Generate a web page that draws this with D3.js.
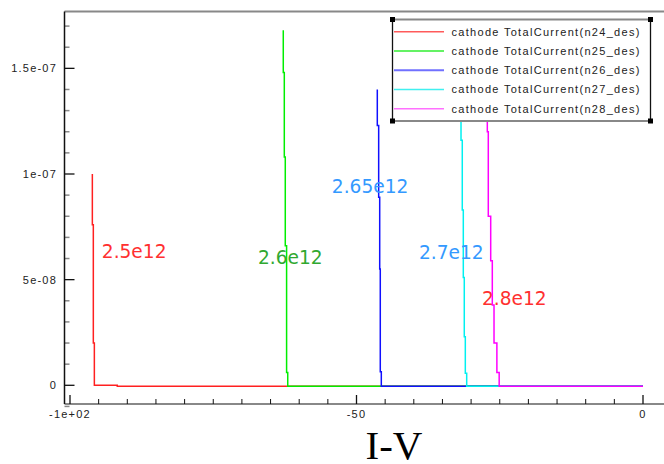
<!DOCTYPE html>
<html>
<head>
<meta charset="utf-8">
<script src="https://cdn.jsdelivr.net/npm/d3@7"></script>
<style>
  body { margin: 0; background: #fff; }
  svg { display: block; }
</style>
</head>
<body>
<svg></svg>
<script>
const width = 664;
const height = 464;

// series: cathode TotalCurrent vs voltage, points drawn as steps
const seriesNames = ["n24_des", "n25_des", "n26_des", "n27_des", "n28_des"];
const n24V = [-96.1, -95.93, -95.75, -91.75, 0];
const n24I = [1.0e-7, 7.6e-8, 2.0e-8, 0, -5e-10];
const n25V = [-62.78, -62.6, -62.43, -62.2, -62.0, 0];
const n25I = [1.68e-7, 1.48e-7, 1.08e-7, 6.6e-8, 6e-9, -5e-10];
const n26V = [-46.37, -46.13, -45.95, -45.85, -45.67, 0];
const n26I = [1.40e-7, 1.23e-7, 8.9e-8, 5.5e-8, 6.4e-9, -5e-10];
const n27V = [-31.76, -31.54, -31.36, -31.19, -31.01, -30.77, 0];
const n27I = [1.5e-7, 1.16e-7, 8.3e-8, 5.1e-8, 2.3e-8, 5.7e-9, -5e-10];
const n28V = [-27.17, -27.0, -26.58, -26.3, -26.0, -25.5, -25.1, 0];
const n28I = [1.45e-7, 1.2e-7, 8.0e-8, 5.9e-8, 3.8e-8, 2.0e-8, 6e-9, -5e-10];

// doping annotations
const annoText = ["2.5e12", "2.6e12", "2.65e12", "2.7e12", "2.8e12"];
const annoV = [-94.45, -67.2, -54.3, -39.1, -28.1];
const annoI = [6.01e-8, 5.73e-8, 9.09e-8, 5.96e-8, 3.78e-8];

const xTicks = [-100, -50, 0];
const xTickLabels = ["-1e+02", "-50", "0"];
const yTicks = [0, 5e-8, 1e-7, 1.5e-7];
const yTickLabels = ["0", "5e-08", "1e-07", "1.5e-07"];

const lineColors = ["#ff2020", "#00ee00", "#1010ff", "#00f0f0", "#ff00ff"];
const legendColors = ["#ff5a5a", "#30ee30", "#7070ff", "#40f0f0", "#ff70ff"];
const annoColors = ["#ff3030", "#30a830", "#3399ff", "#3399ff", "#ff3030"];

const allSeries = [[n24V, n24I], [n25V, n25I], [n26V, n26I], [n27V, n27I], [n28V, n28I]]
  .map(([v, i], k) => ({ name: seriesNames[k], pts: v.map((d, j) => [d, i[j]]) }));

const svg = d3.select("svg").attr("width", width).attr("height", height);

const plotLeft = 64.5, plotTop = 11.5, plotBottom = 404;
const x = d3.scaleLinear().domain([-100, 0]).range([70, 643]);
const y = d3.scaleLinear().domain([0, 1e-7]).range([385.3, 174]);

const tickFont = "'Liberation Sans', Arial, sans-serif";

// frame
svg.append("line").attr("x1", plotLeft).attr("x2", width).attr("y1", plotTop).attr("y2", plotTop)
  .attr("stroke", "#888").attr("stroke-width", 2);
svg.append("line").attr("x1", plotLeft).attr("x2", width).attr("y1", plotBottom).attr("y2", plotBottom)
  .attr("stroke", "#888").attr("stroke-width", 2);

// x ticks
const xMinor = d3.range(-100, 5, 5).filter(d => !xTicks.includes(d));
svg.append("g").selectAll("line").data(xMinor).enter().append("line")
  .attr("x1", d => x(d)).attr("x2", d => x(d))
  .attr("y1", plotBottom).attr("y2", plotBottom - 5)
  .attr("stroke", "#111").attr("stroke-width", 1);
svg.append("g").selectAll("line").data(xTicks).enter().append("line")
  .attr("x1", d => x(d)).attr("x2", d => x(d))
  .attr("y1", plotBottom).attr("y2", plotBottom - 9)
  .attr("stroke", "#111").attr("stroke-width", 1.3);
svg.append("g").selectAll("text").data(xTicks).enter().append("text")
  .attr("x", d => x(d)).attr("y", 418)
  .attr("text-anchor", "middle")
  .attr("font-family", tickFont).attr("font-size", 11)
  .attr("letter-spacing", 1.2).attr("fill", "#222")
  .text((d, k) => xTickLabels[k]);

// y ticks
const yMinor = d3.range(-1, 18).map(k => k * 1e-8).filter(d => !yTicks.some(t => Math.abs(t - d) < 1e-12));
svg.append("g").selectAll("line").data(yMinor).enter().append("line")
  .attr("x1", plotLeft).attr("x2", plotLeft + 5)
  .attr("y1", d => y(d)).attr("y2", d => y(d))
  .attr("stroke", "#888").attr("stroke-width", 1.5);
svg.append("g").selectAll("line").data(yTicks).enter().append("line")
  .attr("x1", plotLeft).attr("x2", plotLeft + 10)
  .attr("y1", d => y(d)).attr("y2", d => y(d))
  .attr("stroke", "#111").attr("stroke-width", 1.3);
svg.append("g").selectAll("text").data(yTicks).enter().append("text")
  .attr("x", 57).attr("y", d => y(d) + 4)
  .attr("text-anchor", "end")
  .attr("font-family", tickFont).attr("font-size", 11)
  .attr("letter-spacing", 1.2).attr("fill", "#222")
  .text((d, k) => yTickLabels[k]);

// left axis
svg.append("line").attr("x1", plotLeft).attr("x2", plotLeft).attr("y1", plotTop).attr("y2", plotBottom)
  .attr("stroke", "#111").attr("stroke-width", 1.5);

// curves
const line = d3.line().x(d => x(d[0])).y(d => y(d[1])).curve(d3.curveStepBefore);
svg.append("g").selectAll("path").data(allSeries).enter().append("path")
  .attr("d", d => line(d.pts))
  .attr("fill", "none")
  .attr("stroke", (d, k) => lineColors[k])
  .attr("stroke-width", 1.5);

// legend
const lg = { x0: 392.5, y0: 19.5, x1: 650.5, y1: 121 };
const legend = svg.append("g");
legend.append("rect").attr("x", lg.x0).attr("y", lg.y0)
  .attr("width", lg.x1 - lg.x0).attr("height", lg.y1 - lg.y0).attr("fill", "#fff");
legend.append("line").attr("x1", lg.x0).attr("x2", lg.x1).attr("y1", lg.y0).attr("y2", lg.y0)
  .attr("stroke", "#888").attr("stroke-width", 2);
legend.append("line").attr("x1", lg.x0).attr("x2", lg.x1).attr("y1", lg.y1).attr("y2", lg.y1)
  .attr("stroke", "#888").attr("stroke-width", 2);
legend.append("line").attr("x1", lg.x0).attr("x2", lg.x0).attr("y1", lg.y0).attr("y2", lg.y1)
  .attr("stroke", "#111").attr("stroke-width", 1.3);
legend.append("line").attr("x1", lg.x1).attr("x2", lg.x1).attr("y1", lg.y0).attr("y2", lg.y1)
  .attr("stroke", "#111").attr("stroke-width", 1.3);
[[lg.x0, lg.y0], [lg.x1, lg.y0], [lg.x0, lg.y1], [lg.x1, lg.y1]].forEach(([cx, cy]) => {
  legend.append("rect").attr("x", cx - 2.5).attr("y", cy - 2.5)
    .attr("width", 5).attr("height", 5).attr("fill", "#000");
});
const rows = legend.selectAll("g.row").data(seriesNames).enter().append("g")
  .attr("class", "row")
  .attr("transform", (d, k) => `translate(0,${31.7 + k * 19.25})`);
rows.append("line").attr("x1", 394).attr("x2", 444).attr("y1", 0).attr("y2", 0)
  .attr("stroke", (d, k) => legendColors[k])
  .attr("stroke-width", (d, k) => k === 2 ? 2 : 1.5);
rows.append("text").attr("x", 451.5).attr("y", 4)
  .attr("font-family", tickFont).attr("font-size", 11)
  .attr("letter-spacing", 1.3).attr("fill", "#222")
  .text(d => `cathode TotalCurrent(${d})`);

// annotations
svg.append("g").selectAll("text").data(annoText).enter().append("text")
  .attr("x", (d, k) => x(annoV[k]))
  .attr("y", (d, k) => y(annoI[k]))
  .attr("font-family", "'DejaVu Sans', sans-serif").attr("font-size", 18.6)
  .attr("fill", (d, k) => annoColors[k])
  .text(d => d);

// title
svg.append("text").attr("x", 394).attr("y", 459)
  .attr("text-anchor", "middle")
  .attr("font-family", "'Liberation Serif', 'Times New Roman', serif")
  .attr("font-size", 41).attr("fill", "#000")
  .text("I-V");
</script>
</body>
</html>
